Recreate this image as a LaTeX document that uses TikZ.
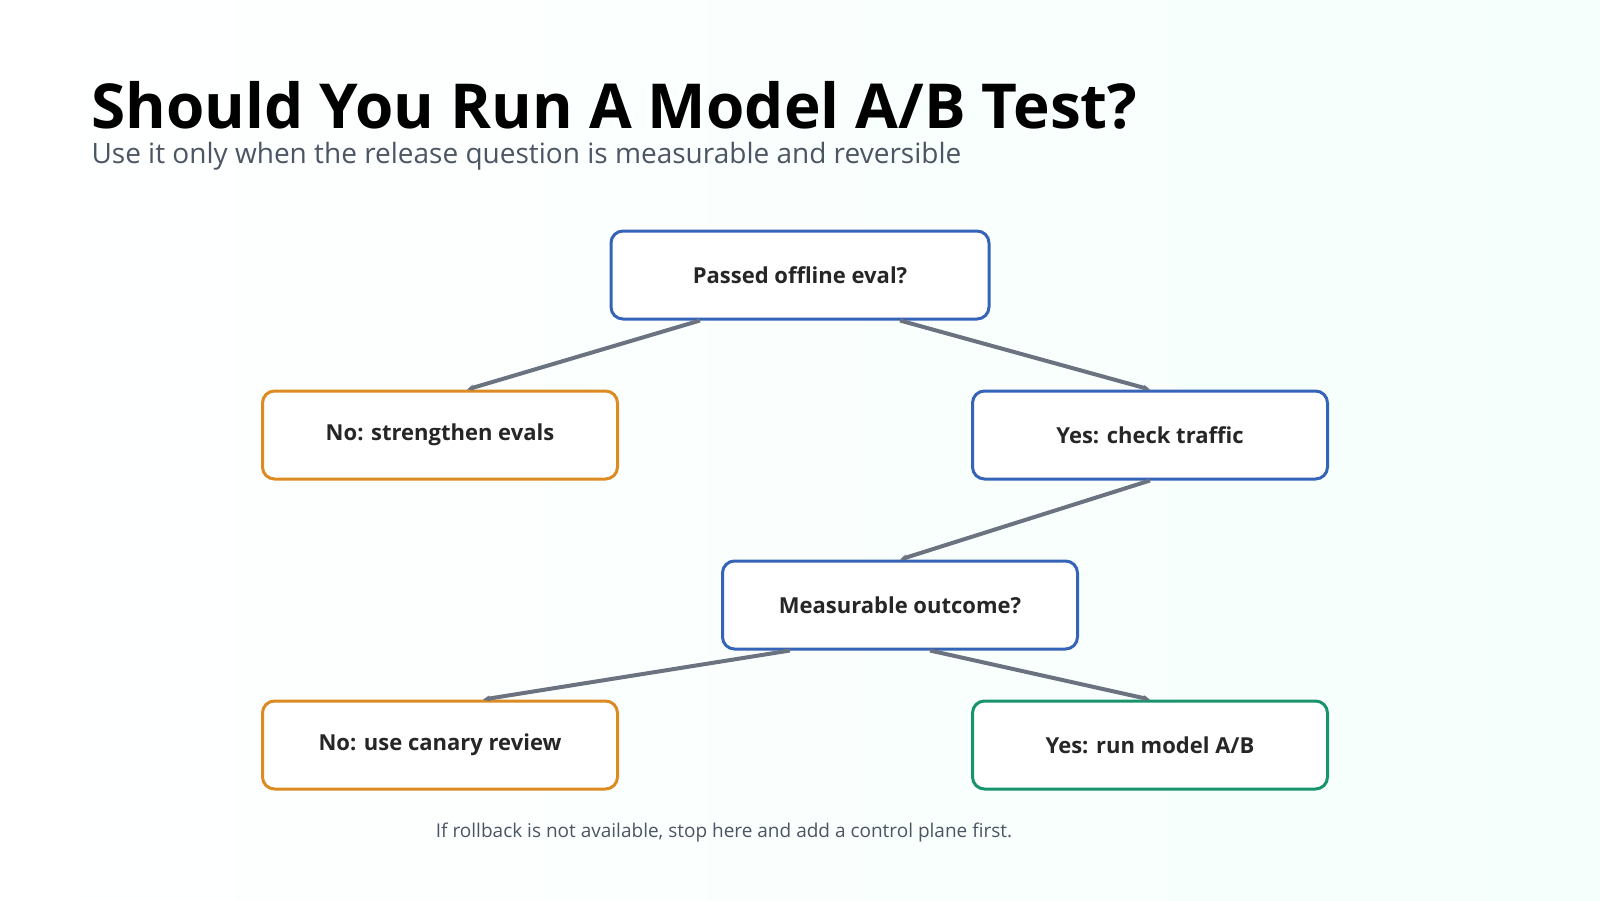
\documentclass[tikz,border=0pt]{standalone}
\usepackage{fontspec}
\setmainfont{Open Sans}
\usetikzlibrary{arrows.meta,positioning}
\definecolor{blueln}{HTML}{3563B8}
\definecolor{orangeln}{HTML}{DC8B22}
\definecolor{greenln}{HTML}{18946A}
\definecolor{arrowln}{HTML}{6B7280}
\definecolor{subtx}{HTML}{4B5563}
\tikzset{
  box/.style={draw,line width=3pt,rounded corners=12pt,fill=white,minimum width=355pt,minimum height=88pt,
    font=\fontsize{22}{26}\selectfont\bfseries,text=black!85},
  ask/.style={box,draw=blueln},
  nobox/.style={box,draw=orangeln},
  gobox/.style={box,draw=greenln},
  link/.style={-{Stealth[length=7pt,width=6pt]},draw=arrowln,line width=4pt}
}
\begin{document}
\begin{tikzpicture}[x=1pt,y=-1pt]
    \shade[left color=white,right color=green!30!cyan!4] (0,0) rectangle (1600,900);
    \useasboundingbox (0,0) rectangle (1600,900);
    %% titles
    \node (title) [anchor=base west,font=\fontsize{62}{70}\selectfont\bfseries] at (88,128) {Should You Run A Model A/B Test?};
    \node (sub) [anchor=base west,font=\fontsize{28}{32}\selectfont,text=subtx] at (88,163) {Use it only when the release question is measurable and reversible};
    %% nodes
    \node (offline) [ask,minimum width=378pt] at (800,275) {Passed offline eval?};
    \node (evals) [nobox] at (440,435) {No: strengthen evals};
    \node (traffic) [ask] at (1150,435) {Yes: check traffic};
    \node (measure) [ask] at (900,605) {Measurable outcome?};
    \node (canary) [nobox] at (440,745) {No: use canary review};
    \node (abtest) [gobox] at (1150,745) {Yes: run model A/B};
    \node (note) [font=\fontsize{19}{22}\selectfont,text=subtx] at (724,832) {If rollback is not available, stop here and add a control plane first.};
    %% links
    \draw[link] ([xshift=-100pt]offline.south) -- ([xshift=27pt]evals.north);
    \draw[link] ([xshift=100pt]offline.south) -- (traffic.north);
    \draw[link] (traffic.south) -- (measure.north);
    \draw[link] ([xshift=-110pt]measure.south) -- ([xshift=43pt]canary.north);
    \draw[link] ([xshift=30pt]measure.south) -- (abtest.north);
\end{tikzpicture}
\end{document}
